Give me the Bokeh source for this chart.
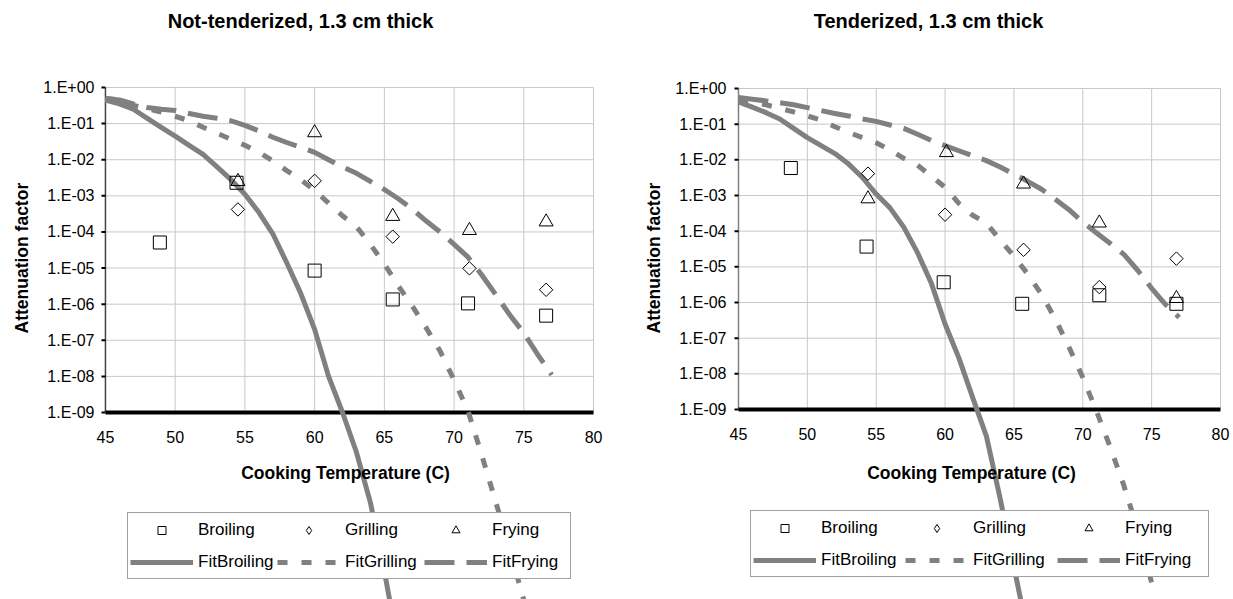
import math
from bokeh.plotting import figure
from bokeh.models import (Range1d, FixedTicker, CustomJSTickFormatter, Label, LabelSet,
                          ColumnDataSource, Legend, LegendItem, Title)
from bokeh.layouts import row
from bokeh.core.properties import value
from bokeh.embed import file_html
from bokeh.resources import INLINE

# ---------------- data ----------------
x_ticks = [45, 50, 55, 60, 65, 70, 75, 80]
y_ticks = [1e0, 1e-1, 1e-2, 1e-3, 1e-4, 1e-5, 1e-6, 1e-7, 1e-8, 1e-9]

titles = ["Not-tenderized, 1.3 cm thick", "Tenderized, 1.3 cm thick"]
x_title = "Cooking Temperature (C)"
y_title = "Attenuation factor"
series_names = ["Broiling", "Grilling", "Frying"]
fit_names = ["FitBroiling", "FitGrilling", "FitFrying"]

# Not-tenderized observations
nt_broiling_t = [48.9, 54.4, 60.0, 65.6, 71.0, 76.6]
nt_broiling_v = [5.1e-5, 2.3e-3, 8.5e-6, 1.35e-6, 1.05e-6, 4.8e-7]
nt_grilling_t = [54.5, 60.0, 65.6, 71.1, 76.6]
nt_grilling_v = [4.2e-4, 2.6e-3, 7.4e-5, 9.8e-6, 2.5e-6]
nt_frying_t = [54.5, 60.0, 65.6, 71.1, 76.6]
nt_frying_v = [2.5e-3, 5.6e-2, 2.7e-4, 1.1e-4, 1.9e-4]

# Not-tenderized fits
nt_fitbroiling_t = [45, 46, 47, 48, 49, 50, 51, 52, 53, 54, 55, 56, 57, 58, 59, 60, 61, 62, 63, 64, 65, 66]
nt_fitbroiling_v = [4.5e-1, 3.5e-1, 2.5e-1, 1.4e-1, 7.9e-2, 4.5e-2, 2.5e-2, 1.4e-2, 6.3e-3, 2.8e-3,
                    1.1e-3, 3.5e-4, 8.9e-5, 1.4e-5, 2.0e-6, 2.0e-7, 1.0e-8, 1.0e-9, 7.9e-11, 3.2e-12,
                    4.0e-14, 3.2e-16]
nt_fitgrilling_t = [45, 46, 47, 48, 49, 50, 51, 52, 53, 54, 55, 56, 57, 58, 59, 60, 61, 62, 63, 64,
                    65, 66, 67, 68, 69, 70, 71, 72, 73, 74, 75]
nt_fitgrilling_v = [5.0e-1, 4.5e-1, 3.2e-1, 2.6e-1, 2.1e-1, 1.6e-1, 1.2e-1, 7.9e-2, 5.4e-2, 3.7e-2,
                    2.5e-2, 1.6e-2, 9.3e-3, 5.0e-3, 2.8e-3, 1.4e-3, 6.3e-4, 2.8e-4, 1.4e-4, 4.5e-5,
                    1.3e-5, 3.2e-6, 8.9e-7, 2.2e-7, 5.0e-8, 7.9e-9, 1.1e-9, 6.3e-11, 3.2e-12, 1.6e-13,
                    6.3e-15]
nt_fitfrying_t = [45, 46, 47, 48, 49, 50, 51, 52, 53, 54, 55, 56, 57, 58, 59, 60, 61, 62, 63, 64,
                  65, 66, 67, 68, 69, 70, 71, 72, 73, 74, 75, 76, 77]
nt_fitfrying_v = [5.0e-1, 4.5e-1, 3.5e-1, 2.8e-1, 2.5e-1, 2.3e-1, 1.9e-1, 1.6e-1, 1.4e-1, 1.2e-1,
                  8.9e-2, 6.3e-2, 4.2e-2, 3.0e-2, 2.2e-2, 1.6e-2, 1.0e-2, 6.3e-3, 4.2e-3, 2.5e-3,
                  1.5e-3, 8.3e-4, 4.3e-4, 2.0e-4, 1.0e-4, 4.5e-5, 2.0e-5, 6.3e-6, 1.8e-6, 5.0e-7,
                  1.6e-7, 4.0e-8, 1.1e-8]

# Tenderized observations
td_broiling_t = [48.8, 54.3, 59.9, 65.6, 71.2, 76.8]
td_broiling_v = [5.9e-3, 3.7e-5, 3.7e-6, 9.2e-7, 1.6e-6, 9.2e-7]
td_grilling_t = [54.4, 60.0, 65.7, 71.2, 76.8]
td_grilling_v = [4.1e-3, 2.9e-4, 3.0e-5, 2.7e-6, 1.7e-5]
td_frying_t = [54.4, 60.1, 65.7, 71.2, 76.8]
td_frying_v = [8.1e-4, 1.6e-2, 2.1e-3, 1.7e-4, 1.3e-6]

# Tenderized fits
td_fitbroiling_t = [45, 46, 47, 48, 49, 50, 51, 52, 53, 54, 55, 56, 57, 58, 59, 60, 61, 62, 63, 64, 65, 66]
td_fitbroiling_v = [4.2e-1, 3.0e-1, 2.1e-1, 1.4e-1, 7.6e-2, 4.2e-2, 2.5e-2, 1.5e-2, 7.6e-3, 3.2e-3,
                    1.1e-3, 4.5e-4, 1.3e-4, 2.5e-5, 3.5e-6, 2.5e-7, 2.8e-8, 2.2e-9, 1.8e-10, 3.2e-12,
                    4.0e-14, 5.0e-16]
td_fitgrilling_t = [45, 46, 47, 48, 49, 50, 51, 52, 53, 54, 55, 56, 57, 58, 59, 60, 61, 62, 63, 64,
                    65, 66, 67, 68, 69, 70, 71, 72, 73, 74, 75]
td_fitgrilling_v = [5.0e-1, 4.2e-1, 3.5e-1, 2.8e-1, 2.2e-1, 1.7e-1, 1.3e-1, 8.5e-2, 5.9e-2, 4.2e-2,
                    3.0e-2, 1.9e-2, 1.1e-2, 7.1e-3, 3.5e-3, 1.7e-3, 6.0e-4, 2.8e-4, 1.7e-4, 5.6e-5,
                    2.0e-5, 6.3e-6, 1.7e-6, 3.5e-7, 5.6e-8, 7.9e-9, 8.9e-10, 8.7e-11, 7.1e-12, 4.0e-13,
                    1.4e-14]
td_fitfrying_t = [45, 46, 47, 48, 49, 50, 51, 52, 53, 54, 55, 56, 57, 58, 59, 60, 61, 62, 63, 64,
                  65, 66, 67, 68, 69, 70, 71, 72, 73, 74, 75, 76, 77]
td_fitfrying_v = [5.6e-1, 5.0e-1, 4.5e-1, 4.0e-1, 3.5e-1, 2.9e-1, 2.4e-1, 2.0e-1, 1.7e-1, 1.4e-1,
                  1.2e-1, 9.5e-2, 7.6e-2, 5.2e-2, 3.5e-2, 2.5e-2, 1.8e-2, 1.3e-2, 9.5e-3, 6.3e-3,
                  4.0e-3, 2.5e-3, 1.5e-3, 7.9e-4, 4.0e-4, 1.8e-4, 8.9e-5, 4.5e-5, 2.2e-5, 7.9e-6,
                  2.5e-6, 8.9e-7, 3.8e-7]

# ---------------- styling / layout ----------------
FONT = "Liberation Sans"
GREY = "#808080"
GRID = "#c8c8c8"
HEIGHT = 599

# fig_x: figure left on page; frame_l/frame_r: frame edges on page;
# x_lo/x_hi: page x of first/last tick; y_top: page y of 1E+00; ppd: px per decade
panels = [
    dict(title=titles[0], fig_x=0, width=617, frame_l=92, frame_r=605, x_lo=103, x_hi=593,
         y_top=87, ppd=36.11, title_dx=-49, title_dy=67, ylab_off=266, ylab_standoff=18,
         xlab_dx=-4, xlab_dy=-61, tick_dy=-25, legend_loc=(33, 20), label_width=76,
         axis_color="#444444",
         obs=[(nt_broiling_t, nt_broiling_v), (nt_grilling_t, nt_grilling_v), (nt_frying_t, nt_frying_v)],
         fits=[(nt_fitbroiling_t, nt_fitbroiling_v), (nt_fitgrilling_t, nt_fitgrilling_v),
               (nt_fitfrying_t, nt_fitfrying_v)]),
    dict(title=titles[1], fig_x=617, width=616, frame_l=726, frame_r=1232, x_lo=738, x_hi=1220,
         y_top=88, ppd=35.67, title_dx=-51, title_dy=68, ylab_off=266, ylab_standoff=18,
         xlab_dx=-8, xlab_dy=-63, tick_dy=-24, legend_loc=(24, 22), label_width=81,
         axis_color="#808080",
         obs=[(td_broiling_t, td_broiling_v), (td_grilling_t, td_grilling_v), (td_frying_t, td_frying_v)],
         fits=[(td_fitbroiling_t, td_fitbroiling_v), (td_fitgrilling_t, td_fitgrilling_v),
               (td_fitfrying_t, td_fitfrying_v)]),
]

marker_styles = [dict(marker="square", size=13, angle=0.0),
                 dict(marker="square", size=9.5, angle=math.pi / 4),
                 dict(marker="triangle", size=14, angle=0.0)]
fit_dashes = ["solid", "10 14", "30 12"]

fmt = CustomJSTickFormatter(code="""
const e = Math.round(Math.log10(tick));
const a = Math.abs(e);
return "1.E" + (e < 0 ? "-" : "+") + (a < 10 ? "0" : "") + a;
""")


def make_panel(cfg):
    bl = cfg["frame_l"] - cfg["fig_x"]
    br = cfg["fig_x"] + cfg["width"] - cfg["frame_r"]
    ppu = (cfg["x_hi"] - cfg["x_lo"]) / (x_ticks[-1] - x_ticks[0])
    x_start = x_ticks[0] - (cfg["x_lo"] - cfg["frame_l"]) / ppu
    x_end = x_ticks[-1] + (cfg["frame_r"] - cfg["x_hi"]) / ppu
    ppd = cfg["ppd"]
    y_end = y_ticks[0] * 10 ** (cfg["y_top"] / ppd)
    y_start = y_end / 10 ** (HEIGHT / ppd)

    p = figure(width=cfg["width"], height=HEIGHT, y_axis_type="log",
               x_range=Range1d(x_start, x_end), y_range=Range1d(y_start, y_end),
               x_axis_location=None, toolbar_location=None, output_backend="svg",
               min_border_left=bl, min_border_right=br, min_border_top=0, min_border_bottom=0)
    p.outline_line_color = None
    p.background_fill_color = "white"
    p.border_fill_color = "white"
    p.xgrid.visible = False
    p.ygrid.visible = False

    ax = p.yaxis[0]
    ax.ticker = FixedTicker(ticks=y_ticks)
    ax.formatter = fmt
    ax.axis_line_color = None
    ax.major_tick_line_color = None
    ax.minor_tick_line_color = None
    ax.major_tick_in = 0
    ax.major_tick_out = 0
    ax.major_label_text_font = FONT
    ax.major_label_text_font_size = "16px"
    ax.major_label_text_color = "black"
    ax.major_label_standoff = 0

    n_y = len(y_ticks)
    n_x = len(x_ticks)
    # horizontal grid lines, limited to the plotting area
    p.segment(x0=[x_ticks[0]] * n_y, y0=y_ticks, x1=[x_ticks[-1]] * n_y, y1=y_ticks,
              line_color=GRID, line_width=1)
    # vertical grid lines, limited to the plotting area
    p.segment(x0=x_ticks[1:], y0=[y_ticks[-1]] * (n_x - 1),
              x1=x_ticks[1:], y1=[y_ticks[0]] * (n_x - 1),
              line_color=GRID, line_width=1)
    # value axis line + tick marks
    p.segment(x0=[x_ticks[0]], y0=[y_ticks[-1]], x1=[x_ticks[0]], y1=[y_ticks[0]],
              line_color=cfg["axis_color"], line_width=1.5)
    p.ray(x=[x_ticks[0]] * n_y, y=y_ticks, length=4, angle=math.pi, length_units="screen",
          line_color="black", line_width=2)
    # category axis line (thick black)
    p.segment(x0=[x_ticks[0]], y0=[y_ticks[-1]], x1=[x_ticks[-1]], y1=[y_ticks[-1]],
              line_color="black", line_width=4)

    fit_rs = []
    for (t, v), dash in zip(cfg["fits"], fit_dashes):
        r = p.line(t, v, line_color=GREY, line_width=5, line_dash=dash, line_join="round")
        fit_rs.append(r)
    obs_rs = []
    for (t, v), ms in zip(cfg["obs"], marker_styles):
        r = p.scatter(t, v, marker=ms["marker"], size=ms["size"], angle=ms["angle"],
                      fill_color=None, line_color="black", line_width=1)
        obs_rs.append(r)
    # legend swatch for the diamond (legend ignores marker rotation); no visible points
    diamond_swatch = p.scatter(x=[float("nan")], y=[float("nan")], marker="diamond", size=10,
                               fill_color=None, line_color="black", line_width=1)
    leg_rs = [obs_rs[0], diamond_swatch, obs_rs[2]]

    # x tick labels under the axis line
    src = ColumnDataSource(dict(x=x_ticks, y=[y_ticks[-1]] * n_x,
                                text=[str(t) for t in x_ticks]))
    p.add_layout(LabelSet(x="x", y="y", text="text", source=src, y_offset=cfg["tick_dy"],
                          text_align="center", text_baseline="middle",
                          text_font=value(FONT), text_font_size=value("16px"),
                          text_color="black"))
    x_mid = (x_ticks[0] + x_ticks[-1]) / 2
    p.add_layout(Label(x=x_mid, y=y_ticks[-1], x_offset=cfg["xlab_dx"], y_offset=cfg["xlab_dy"],
                       text=x_title, text_font=FONT, text_font_size="17.5px",
                       text_font_style="bold", text_align="center", text_baseline="middle",
                       text_color="black"))
    p.add_layout(Label(x=x_mid, y=y_ticks[0], x_offset=cfg["title_dx"], y_offset=cfg["title_dy"],
                       text=cfg["title"], text_font=FONT, text_font_size="20px",
                       text_font_style="bold", text_align="center", text_baseline="middle",
                       text_color="black"))
    p.add_layout(Title(text=y_title, align="left", offset=cfg["ylab_off"],
                       standoff=cfg["ylab_standoff"], text_font=FONT, text_font_size="17.5px",
                       text_font_style="bold", text_color="black"), "left")

    items = [LegendItem(label=n, renderers=[r]) for n, r in zip(series_names, leg_rs)]
    items += [LegendItem(label=n, renderers=[r]) for n, r in zip(fit_names, fit_rs)]
    legend = Legend(items=items, location=cfg["legend_loc"], orientation="horizontal", ncols=3,
                    label_text_font=FONT, label_text_font_size="17px", label_text_color="black",
                    glyph_width=63, glyph_height=20, label_width=cfg["label_width"],
                    label_height=29, label_standoff=5, spacing=3, padding=2, margin=0,
                    border_line_color="#404040", border_line_width=1,
                    background_fill_color="white", background_fill_alpha=1.0)
    p.add_layout(legend)
    return p


layout = row(*[make_panel(c) for c in panels])
open("out.html", "w").write(file_html(layout, INLINE))
